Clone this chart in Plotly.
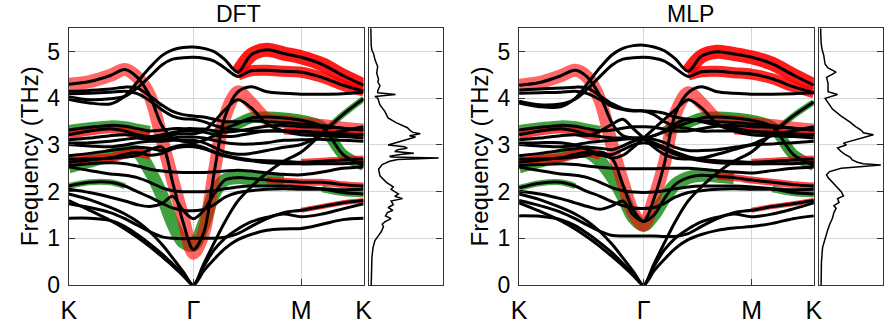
import plotly.graph_objects as go

# ---------------- data ----------------
k_path = [0, .222, .444, .6, .733, .867, 1.0, 1.111, 1.222, 1.333, 1.444, 1.555, 1.67, 1.81,
          1.95, 2.12, 2.30, 2.488, 2.711, 2.933, 3.155]
hs_pos = [0, 1.333, 2.488, 3.155]
hs_labels = ["K", "Γ", "M", "K"]
freq_ticks = [0, 1, 2, 3, 4, 5]

N = None
# DFT black bands
dft_b01 = [1.43,1.43,1.38,1.25,1.08,0.88,0.66,0.45,0.23,0.0, 0.3,0.55,0.78,0.97,1.08,1.17,1.2,1.21,1.3,1.4,1.43]
dft_b02 = [1.81,1.6,1.38,1.2,1.02,0.82,0.6,0.41,0.2,0.0, 0.4,0.75,1.0,1.2,1.35,1.45,1.52,1.46,1.52,1.63,1.74]
dft_b03 = [1.95,1.83,1.66,1.52,1.36,1.14,0.86,0.58,0.29,0.0, 0.45,0.9,1.35,1.8,2.1,2.4,2.65,2.85,3.25,3.65,3.99]
dft_b04 = [1.74,1.66,1.55,1.42,1.28,1.14,1.03,1.0,0.99,1.0, 1.0,1.0,1.02,1.1,1.25,1.42,1.55,1.6,1.68,1.76,1.81]
dft_b05 = [2.05,1.98,1.88,1.8,1.72,1.68,1.75,1.9,1.6,1.42, 1.6,1.95,2.25,2.3,2.28,2.25,2.22,2.2,2.2,2.15,2.12]
dft_b06 = [2.12,2.2,2.2,2.12,2.0,1.88,1.75,1.65,1.6,1.59, 1.62,1.72,1.88,1.98,2.02,2.05,2.06,2.05,2.05,2.04,2.05]
dft_b07 = [2.53,2.45,2.38,2.35,2.3,2.2,2.08,2.02,2.0,2.0, 2.0,2.02,2.06,2.1,2.12,2.12,2.12,2.1,2.06,1.98,1.95]
dft_b08 = [2.56,2.6,2.62,2.6,2.55,2.48,2.44,2.42,2.41,2.41, 2.41,2.42,2.44,2.46,2.44,2.4,2.37,2.36,2.42,2.5,2.53]
dft_b09 = [2.63,2.68,2.72,2.74,2.78,2.9,2.95,2.2,1.35,0.76, 1.12,2.4,3.6,4.14,4.25,4.14,4.11,4.09,4.09,4.1,4.13]
dft_c1 = [3.32,3.38,3.42,3.4,3.35,3.3,3.32,3.35,3.35,3.35, 3.34,3.3,3.28,3.3,3.35,3.4,3.42,3.39,3.38,3.36,3.32]
dft_c2 = [3.22,3.3,3.35,3.3,3.22,3.18,3.22,3.27,3.3,3.3, 3.28,3.22,3.18,3.2,3.25,3.3,3.3,3.29,3.27,3.24,3.22]
dft_c3 = [3.11,3.15,3.2,3.22,3.2,3.16,3.18,3.22,3.24,3.24, 3.3,3.5,3.75,3.97,3.8,3.45,3.3,3.22,3.2,3.18,3.15]
dft_c4 = [3.04,3.05,3.08,3.12,3.15,3.12,3.12,3.15,3.17,3.17, 3.15,3.1,3.05,3.02,3.02,3.05,3.1,3.11,3.12,3.1,3.08]
dft_c5 = [3.01,2.98,2.96,3.0,3.05,3.08,3.08,3.1,3.1,3.1, 3.05,2.95,2.85,2.8,2.82,2.88,2.95,3.01,3.2,3.3,3.39]
dft_c6 = [2.77,2.82,2.88,2.92,2.95,2.93,2.88,2.95,3.0,3.0, 2.95,2.85,2.78,2.72,2.68,2.66,2.65,2.63,2.65,2.68,2.7]
dft_c7 = [2.7,2.7,2.72,2.8,2.84,2.78,2.82,2.92,2.96,2.96, 2.92,2.84,2.76,2.7,2.66,2.62,2.6,2.6,2.6,2.6,2.63]
dft_u1 = [4.3,4.36,4.49,4.62,4.45,4.05,3.4,3.15,3.08,3.05, 3.1,3.2,3.35,3.46,3.58,3.6,3.58,3.53,3.39,2.8,2.56]
dft_u2 = [4.03,3.97,3.99,4.04,4.22,4.47,4.72,4.84,4.87,4.88, 4.86,4.8,4.65,4.47,4.59,4.6,4.58,4.56,4.45,4.28,4.16]
dft_u3 = [3.98,3.9,3.88,4.05,4.35,4.66,4.92,5.04,5.09,5.1, 5.07,5.0,4.83,4.56,4.93,5.04,4.96,4.88,4.73,4.49,4.28]
dft_u4 = [4.15,4.17,4.2,4.24,4.22,4.05,3.85,3.72,3.65,3.62, 3.6,3.55,3.5,3.5,3.52,3.5,3.48,3.45,3.42,3.36,3.32]
dft_u5 = [4.1,4.11,4.13,4.15,4.1,3.95,3.75,3.62,3.56,3.55, 3.5,3.42,3.36,3.32,3.3,3.3,3.3,3.29,3.25,3.22,3.22]

# DFT projected (fat) bands
dft_red1 = [4.3,4.36,4.49,4.62,4.45,4.05,3.1,2.25,1.45,0.68, 1.12,2.4,3.6,4.14,3.9,3.55,3.5,3.45,3.42,3.36,3.32]
dft_red2 = [N]*13 + [4.56,4.93,5.04,4.96,4.88,4.73,4.49,4.28]
dft_red3 = [N]*13 + [4.5,4.59,4.6,4.58,4.56,4.45,4.28,4.16]
dft_red4 = [3.22,3.3,3.35,3.3,3.22,3.18] + [N]*15
dft_red5 = [2.7,2.7,2.72,2.8,2.84,2.78] + [N]*15
dft_red6 = [N]*15 + [2.25,2.22,2.2,2.2,2.15,2.12]
dft_red7 = [N]*16 + [3.3,3.29,3.27,3.24,3.22]
dft_red8 = [N]*17 + [2.63,2.65,2.68,2.7]
dft_red9 = [N]*17 + [1.6,1.68,1.76,1.81]
dft_green1 = [2.53,2.65,2.78,2.85,2.85,2.45,1.9,1.32,0.92,0.85, 1.3,1.95,2.25,2.3,2.28,2.25,2.22] + [N]*4
dft_green2 = [3.32,3.38,3.42,3.4,3.35,3.3] + [N]*15
dft_green3 = [N]*11 + [3.2,3.35,3.46,3.58,3.6,3.58,3.53,3.39,2.8,2.56]
dft_green4 = [N]*18 + [3.25,3.65,3.99]
dft_green5 = [N]*18 + [2.06,1.98,1.95]
dft_green6 = [2.12,2.2,2.2,2.12] + [N]*17

# MLP black bands
mlp_b01 = [1.48,1.47,1.4,1.27,1.1,0.9,0.68,0.46,0.23,0.0, 0.3,0.55,0.78,0.97,1.08,1.17,1.22,1.25,1.32,1.42,1.48]
mlp_b02 = [1.76,1.58,1.38,1.2,1.02,0.82,0.6,0.41,0.2,0.0, 0.4,0.75,1.0,1.2,1.35,1.45,1.52,1.46,1.52,1.63,1.76]
mlp_b03 = [1.95,1.83,1.66,1.52,1.36,1.14,0.86,0.58,0.29,0.0, 0.45,0.9,1.35,1.8,2.1,2.4,2.65,2.85,3.25,3.62,3.92]
mlp_b04 = [1.81,1.7,1.56,1.42,1.28,1.15,1.06,1.05,1.05,1.05, 1.05,1.04,1.04,1.1,1.25,1.42,1.55,1.6,1.68,1.74,1.81]
mlp_b05 = [2.01,1.95,1.85,1.76,1.68,1.62,1.7,1.8,1.5,1.36, 1.5,1.85,2.15,2.3,2.35,2.33,2.3,2.25,2.2,2.15,2.12]
mlp_b06 = [2.08,2.18,2.2,2.12,2.0,1.9,1.78,1.7,1.65,1.64, 1.66,1.75,1.88,1.98,2.02,2.05,2.06,2.05,2.05,2.04,2.05]
mlp_b07 = [2.53,2.45,2.38,2.35,2.3,2.2,2.08,2.02,1.99,1.98, 1.99,2.02,2.06,2.1,2.12,2.12,2.12,2.1,2.06,1.98,1.95]
mlp_b08 = [2.56,2.58,2.6,2.58,2.55,2.52,2.5,2.49,2.49,2.49, 2.49,2.5,2.5,2.5,2.48,2.45,2.42,2.4,2.45,2.5,2.53]
mlp_b09 = [2.63,2.68,2.72,2.74,2.78,2.85,2.7,2.15,1.6,1.36, 1.85,2.6,3.65,4.12,4.25,4.14,4.11,4.09,4.09,4.1,4.12]
mlp_c1 = [3.32,3.38,3.42,3.4,3.35,3.3,3.32,3.36,3.39,3.39, 3.38,3.34,3.3,3.3,3.35,3.4,3.42,3.39,3.38,3.36,3.32]
mlp_c2 = [3.22,3.3,3.35,3.3,3.22,3.18,3.15,3.15,3.15,3.15, 3.2,3.3,3.45,3.55,3.5,3.42,3.36,3.3,3.27,3.24,3.22]
mlp_c3 = [3.11,3.15,3.2,3.22,3.2,3.3,3.45,3.55,3.35,3.15, 2.95,2.8,2.72,2.7,2.72,2.8,2.9,3.0,3.02,3.05,3.08]
mlp_c4 = [3.04,3.05,3.05,3.0,2.9,2.8,2.72,2.78,2.95,3.15, 3.35,3.55,3.75,3.97,3.8,3.45,3.3,3.22,3.2,3.18,3.15]
mlp_c5 = [3.01,2.98,2.96,3.0,3.05,3.08,3.1,3.12,3.14,3.15, 3.12,3.05,2.95,2.88,2.88,2.9,2.95,3.01,3.2,3.3,3.39]
mlp_c6 = [2.77,2.82,2.88,2.92,2.95,2.93,2.9,2.98,3.08,3.12, 3.05,2.95,2.85,2.75,2.7,2.66,2.65,2.63,2.65,2.68,2.7]
mlp_c7 = [2.7,2.7,2.72,2.8,2.84,2.78,2.8,2.9,3.0,3.05, 3.0,2.9,2.8,2.72,2.66,2.62,2.6,2.6,2.6,2.6,2.63]
mlp_u1 = [4.28,4.34,4.48,4.6,4.45,4.05,3.45,3.2,3.15,3.15, 3.2,3.28,3.38,3.48,3.58,3.6,3.58,3.53,3.39,2.8,2.56]
mlp_u2 = [3.94,3.86,3.88,3.98,4.2,4.47,4.72,4.84,4.87,4.88, 4.86,4.8,4.65,4.47,4.57,4.58,4.55,4.52,4.42,4.25,4.12]
mlp_u3 = [3.9,3.82,3.82,4.0,4.32,4.66,4.94,5.07,5.13,5.14, 5.1,5.02,4.85,4.58,4.9,5.0,4.95,4.88,4.74,4.5,4.28]
mlp_u4 = [4.18,4.2,4.22,4.24,4.22,4.05,3.88,3.78,3.74,3.73, 3.72,3.68,3.6,3.55,3.52,3.5,3.48,3.45,3.42,3.36,3.32]
mlp_u5 = [4.11,4.12,4.13,4.15,4.1,3.97,3.82,3.76,3.73,3.73, 3.65,3.5,3.4,3.35,3.3,3.3,3.3,3.29,3.25,3.22,3.22]

mlp_red1 = [4.28,4.34,4.48,4.6,4.45,3.95,2.95,2.2,1.55,1.28, 1.85,2.6,3.65,4.12,3.9,3.55,3.5,3.45,3.42,3.36,3.32]
mlp_red2 = [N]*13 + [4.58,4.9,5.0,4.95,4.88,4.74,4.5,4.28]
mlp_red3 = [N]*13 + [4.5,4.57,4.58,4.55,4.52,4.42,4.25,4.12]
mlp_red4 = [3.22,3.3,3.35,3.3,3.22,3.18] + [N]*15
mlp_red5 = [2.7,2.7,2.72,2.8,2.84,2.78] + [N]*15
mlp_red6 = [N]*15 + [2.33,2.3,2.25,2.2,2.15,2.12]
mlp_red7 = [N]*16 + [3.3,3.29,3.27,3.24,3.22]
mlp_red8 = [N]*17 + [2.63,2.65,2.68,2.7]
mlp_red9 = [N]*17 + [1.6,1.68,1.74,1.81]
mlp_green1 = [2.53,2.65,2.78,2.85,2.85,2.65,2.3,1.9,1.45,1.28, 1.5,1.85,2.15,2.3,2.35,2.33,2.3] + [N]*4
mlp_green2 = [3.32,3.38,3.42,3.4,3.35,3.3] + [N]*15
mlp_green3 = [N]*11 + [3.28,3.38,3.48,3.58,3.6,3.58,3.53,3.39,2.8,2.56]
mlp_green4 = [N]*18 + [3.25,3.62,3.92]
mlp_green5 = [N]*18 + [2.06,1.98,1.95]
mlp_green6 = [2.08,2.18,2.2,2.12] + [N]*17

# Density of states
dft_dos_f = [0,0.3,0.6,0.8,0.95,1.05,1.15,1.25,1.3,1.35,1.42,1.48,1.55,1.6,1.66,1.72,1.8,1.85,1.9,1.95,2.0,
             2.05,2.1,2.2,2.34,2.48,2.58,2.65,2.69,2.72,2.74,2.76,2.8,2.82,2.86,2.9,2.93,2.96,3.0,3.04,3.07,
             3.12,3.17,3.2,3.24,3.27,3.3,3.37,3.42,3.48,3.58,3.72,3.86,4.0,4.04,4.08,4.12,4.16,4.27,4.35,
             4.41,4.54,4.68,4.82,4.96,5.03,5.13,5.3,5.5]
dft_dos_v = [0.03,0.035,0.04,0.055,0.08,0.127,0.17,0.197,0.18,0.215,0.3,0.224,0.25,0.325,0.26,0.33,0.3,0.456,
             0.35,0.4,0.346,0.3,0.33,0.237,0.149,0.13,0.18,0.28,0.39,0.947,0.3,0.28,0.45,0.61,0.35,0.39,0.52,
             0.48,0.26,0.35,0.39,0.5,0.632,0.55,0.697,0.6,0.566,0.522,0.45,0.368,0.259,0.215,0.149,0.12,0.08,
             0.36,0.12,0.118,0.149,0.12,0.13,0.105,0.118,0.083,0.061,0.04,0.03,0.025,0.025]
mlp_dos_f = [0,0.5,0.8,1.02,1.15,1.29,1.43,1.55,1.64,1.7,1.77,1.85,1.91,2.0,2.05,2.19,2.3,2.36,2.43,2.5,2.53,
             2.57,2.6,2.63,2.68,2.74,2.8,2.87,2.94,3.0,3.04,3.08,3.12,3.15,3.22,3.26,3.29,3.34,3.39,3.49,3.63,
             3.77,3.9,4.0,4.08,4.14,4.32,4.45,4.56,4.65,4.73,4.93,5.07,5.2,5.4,5.5]
mlp_dos_v = [0.025,0.03,0.045,0.08,0.11,0.14,0.18,0.2,0.23,0.2,0.27,0.25,0.33,0.3,0.27,0.18,0.12,0.1,0.14,0.3,
             0.5,0.84,0.6,0.52,0.45,0.42,0.35,0.29,0.25,0.37,0.33,0.42,0.5,0.59,0.74,0.6,0.59,0.55,0.5,0.42,
             0.29,0.18,0.12,0.08,0.25,0.12,0.12,0.1,0.23,0.12,0.08,0.06,0.035,0.025,0.02,0.02]

dft_black = [dft_b01, dft_b02, dft_b03, dft_b04, dft_b05, dft_b06, dft_b07, dft_b08, dft_b09,
             dft_c1, dft_c2, dft_c3, dft_c4, dft_c5, dft_c6, dft_c7, dft_u1, dft_u2, dft_u3, dft_u4, dft_u5]
mlp_black = [mlp_b01, mlp_b02, mlp_b03, mlp_b04, mlp_b05, mlp_b06, mlp_b07, mlp_b08, mlp_b09,
             mlp_c1, mlp_c2, mlp_c3, mlp_c4, mlp_c5, mlp_c6, mlp_c7, mlp_u1, mlp_u2, mlp_u3, mlp_u4, mlp_u5]
fat_widths_red = [13, 14, 11, 9, 9, 7, 7, 7, 5]
fat_alpha_red = [0.6, 0.9, 0.85, 0.75, 0.75, 0.75, 0.75, 0.75, 0.75]
fat_widths_green = [13, 10, 11, 6, 7, 6]
fat_alpha_green = [0.75, 0.75, 0.8, 0.75, 0.75, 0.7]
dft_red = [dft_red1, dft_red2, dft_red3, dft_red4, dft_red5, dft_red6, dft_red7, dft_red8, dft_red9]
dft_green = [dft_green1, dft_green2, dft_green3, dft_green4, dft_green5, dft_green6]
mlp_red = [mlp_red1, mlp_red2, mlp_red3, mlp_red4, mlp_red5, mlp_red6, mlp_red7, mlp_red8, mlp_red9]
mlp_green = [mlp_green1, mlp_green2, mlp_green3, mlp_green4, mlp_green5, mlp_green6]

# ---------------- figure ----------------
W, H = 893, 333
FONT = "Liberation Sans, Arial, sans-serif"
fig = go.Figure()


def add_panel(xa, ya, black, red, green):
    for vals, w, a in zip(green, fat_widths_green, fat_alpha_green):
        fig.add_trace(go.Scatter(x=k_path, y=vals, mode="lines", xaxis=xa, yaxis=ya,
                                 line=dict(color=f"rgba(0,130,0,{a})", width=w, shape="spline", smoothing=0.9),
                                 hoverinfo="skip", showlegend=False, connectgaps=False))
    for vals, w, a in zip(red, fat_widths_red, fat_alpha_red):
        fig.add_trace(go.Scatter(x=k_path, y=vals, mode="lines", xaxis=xa, yaxis=ya,
                                 line=dict(color=f"rgba(255,0,0,{a})", width=w, shape="spline", smoothing=0.9),
                                 hoverinfo="skip", showlegend=False, connectgaps=False))
    for vals in black:
        fig.add_trace(go.Scatter(x=k_path, y=vals, mode="lines", xaxis=xa, yaxis=ya,
                                 line=dict(color="black", width=3, shape="spline", smoothing=0.9),
                                 hoverinfo="skip", showlegend=False))


add_panel("x", "y", dft_black, dft_red, dft_green)
add_panel("x3", "y3", mlp_black, mlp_red, mlp_green)
fig.add_trace(go.Scatter(x=dft_dos_v, y=dft_dos_f, mode="lines", xaxis="x2", yaxis="y2",
                         line=dict(color="black", width=1.5), showlegend=False, hoverinfo="skip"))
fig.add_trace(go.Scatter(x=mlp_dos_v, y=mlp_dos_f, mode="lines", xaxis="x4", yaxis="y4",
                         line=dict(color="black", width=1.5), showlegend=False, hoverinfo="skip"))


def px_x(p):
    return p / W


def px_y(p):
    return 1 - p / H


GRID = "#d6d6d6"
frame = dict(showline=True, mirror=True, linecolor="#333333", linewidth=1.2, zeroline=False)
ydom = [px_y(296.5), px_y(29.5)]

band_x = dict(range=[0, 3.155], tickvals=hs_pos, ticktext=hs_labels, ticks="inside", ticklen=6,
              tickcolor="#333333", showgrid=True, gridcolor=GRID, gridwidth=1,
              tickfont=dict(family=FONT, size=25, color="black"), ticklabelstandoff=3, **frame)
band_y = dict(range=[0, 5.5], tickvals=freq_ticks, ticks="inside", ticklen=6, tickcolor="#333333",
              showgrid=True, gridcolor=GRID, gridwidth=1, domain=ydom,
              tickfont=dict(family=FONT, size=23, color="black"), ticklabelstandoff=3, **frame)
dos_y = dict(range=[0, 5.5], tickvals=freq_ticks, ticks="inside", ticklen=6, tickcolor="#333333",
             side="right", showticklabels=False, showgrid=True, gridcolor=GRID, gridwidth=1,
             domain=ydom, **frame)
dos_x_common = dict(showticklabels=False, ticks="", showgrid=False, **frame)

fig.update_layout(
    width=W, height=H, margin=dict(l=0, r=0, t=0, b=0),
    plot_bgcolor="white", paper_bgcolor="white",
    xaxis=dict(domain=[px_x(62), px_x(362.5)], anchor="y", **band_x),
    yaxis=dict(anchor="x", **band_y),
    xaxis2=dict(domain=[px_x(368), px_x(443)], anchor="y2", range=[0, 1.0], **dos_x_common),
    yaxis2=dict(anchor="x2", **dos_y),
    xaxis3=dict(domain=[px_x(521), px_x(821.5)], anchor="y3", **band_x),
    yaxis3=dict(anchor="x3", **band_y),
    xaxis4=dict(domain=[px_x(827), px_x(892)], anchor="y4", range=[0, 0.87], **dos_x_common),
    yaxis4=dict(anchor="x4", **dos_y),
    annotations=[
        dict(text="DFT", x=px_x(235), y=px_y(15), xref="paper", yref="paper", showarrow=False,
             font=dict(family=FONT, size=23, color="black"), xanchor="center", yanchor="middle"),
        dict(text="MLP", x=px_x(696), y=px_y(15), xref="paper", yref="paper", showarrow=False,
             font=dict(family=FONT, size=23, color="black"), xanchor="center", yanchor="middle"),
        dict(text="Frequency (THz)", x=px_x(22), y=px_y(163), xref="paper", yref="paper", showarrow=False,
             textangle=-90, font=dict(family=FONT, size=24, color="black"), xanchor="center", yanchor="middle"),
        dict(text="Frequency (THz)", x=px_x(481), y=px_y(163), xref="paper", yref="paper", showarrow=False,
             textangle=-90, font=dict(family=FONT, size=24, color="black"), xanchor="center", yanchor="middle"),
    ],
)

fig.write_html("out.html")
